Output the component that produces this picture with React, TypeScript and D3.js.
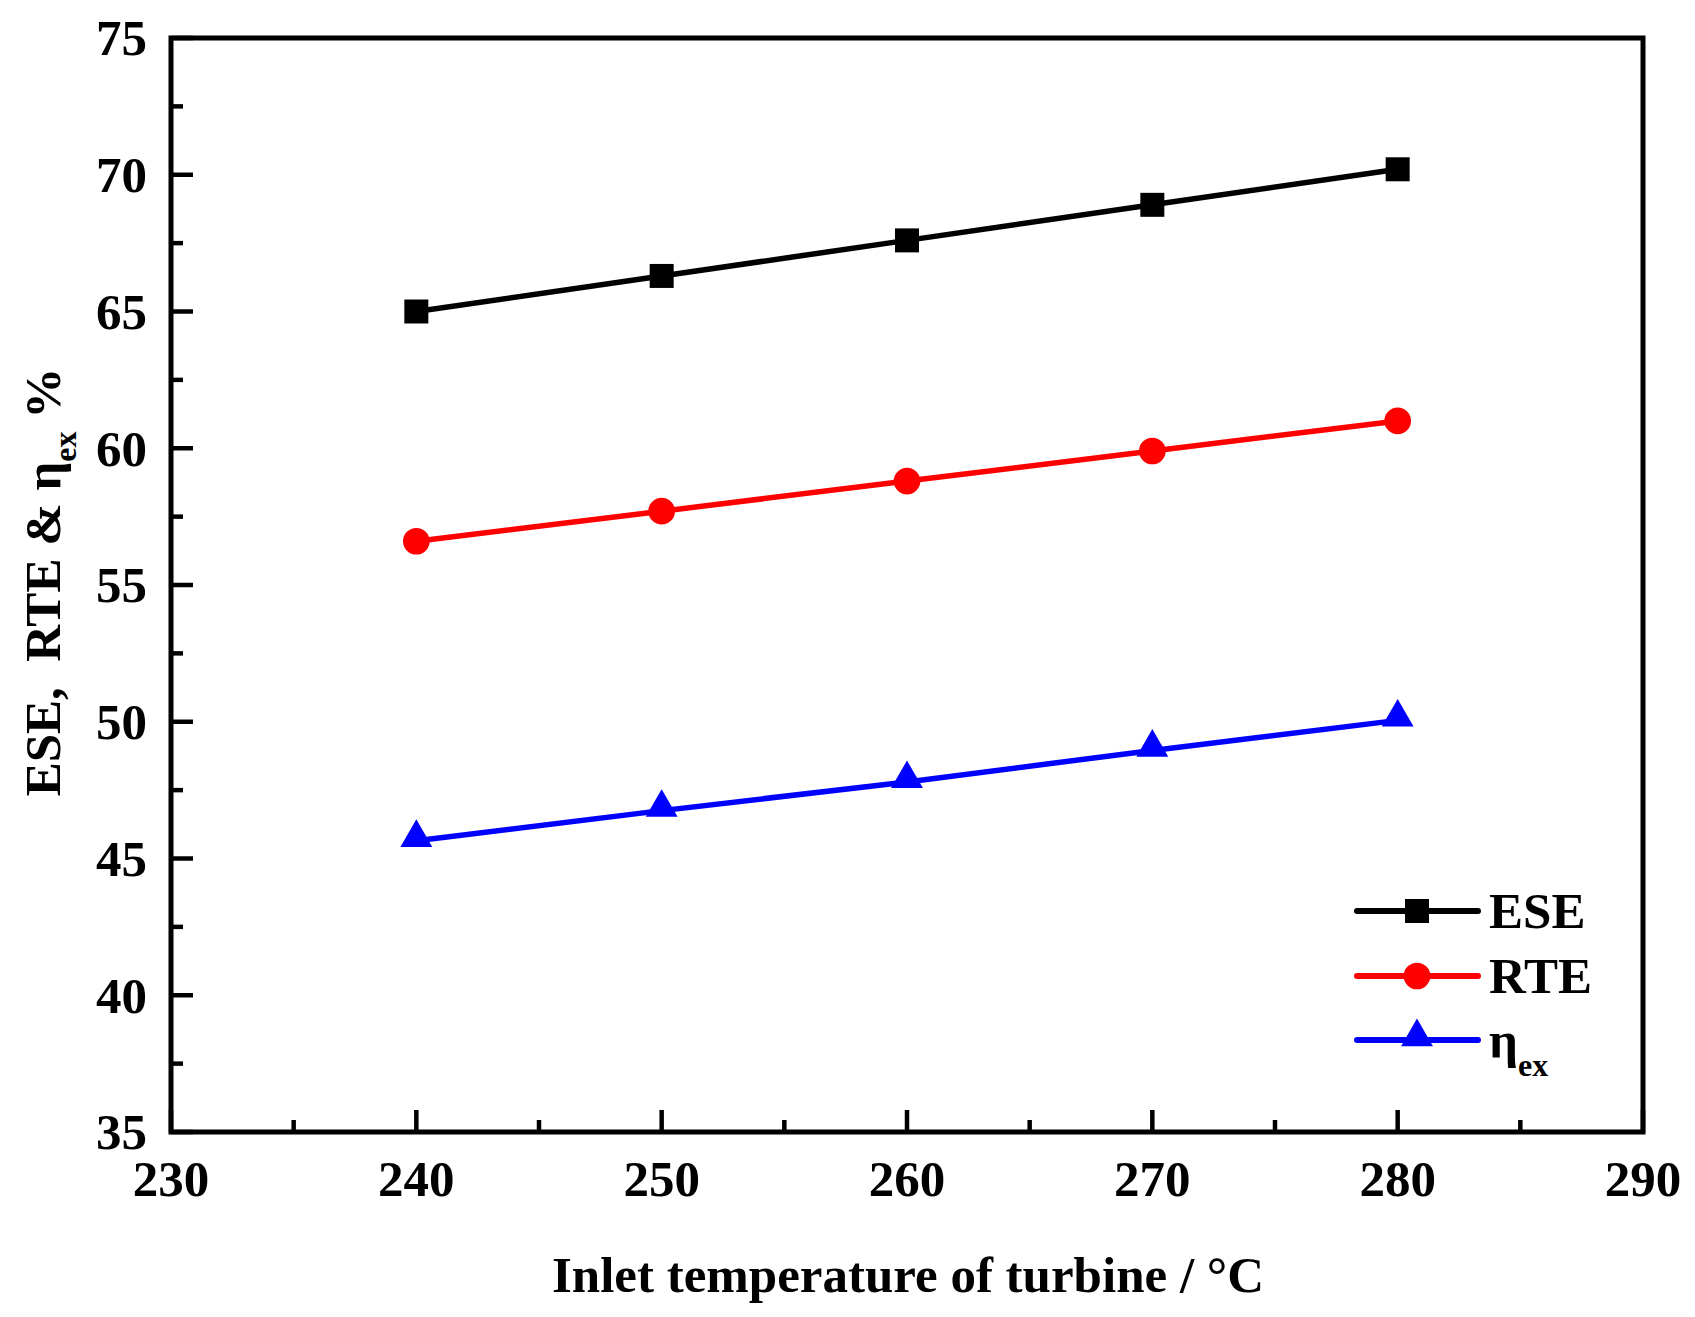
import * as d3 from "d3";
import { useEffect, useRef } from "react";

const temperatures = [240, 250, 260, 270, 280];
const eseValues = [65.0, 66.3, 67.6, 68.9, 70.2];
const rteValues = [56.6, 57.7, 58.8, 59.9, 61.0];
const etaValues = [45.65, 46.75, 47.8, 48.95, 50.05];
const xTicks = [230, 240, 250, 260, 270, 280, 290];
const yTicks = [35, 40, 45, 50, 55, 60, 65, 70, 75];

interface Series {
  name: string;
  values: number[];
  color: string;
  symbol: d3.SymbolType;
  size: number;
  shift: number;
}

const series: Series[] = [
  { name: "ESE", values: eseValues, color: "#000000", symbol: d3.symbolSquare, size: 576, shift: 0 },
  { name: "RTE", values: rteValues, color: "#ff0000", symbol: d3.symbolCircle, size: 560, shift: 0 },
  { name: "η", values: etaValues, color: "#0000ff", symbol: d3.symbolTriangle, size: 440, shift: -3 },
];

const FONT = "'Liberation Serif', 'Times New Roman', serif";

const App = () => {
  const ref = useRef<SVGSVGElement | null>(null);

  useEffect(() => {
    const width = 1695;
    const height = 1317;
    const left = 171;
    const right = 1643;
    const top = 38;
    const bottom = 1132;

    const x = d3.scaleLinear().domain([230, 290]).range([left, right]);
    const y = d3.scaleLinear().domain([35, 75]).range([bottom, top]);

    const svg = d3.select(ref.current);
    svg.selectAll("*").remove();
    svg.attr("width", width).attr("height", height);

    svg.append("rect").attr("width", width).attr("height", height).attr("fill", "#fff");

    // ticks (inward, left and bottom only)
    const minorX = d3.range(235, 290, 10);
    const minorY = d3.range(37.5, 75, 5);
    const tg = svg.append("g").attr("stroke", "#000").attr("stroke-width", 4.5);
    xTicks.forEach(t => {
      tg.append("line").attr("x1", x(t)).attr("x2", x(t)).attr("y1", bottom).attr("y2", bottom - 22);
    });
    minorX.forEach(t => {
      tg.append("line").attr("x1", x(t)).attr("x2", x(t)).attr("y1", bottom).attr("y2", bottom - 12);
    });
    yTicks.forEach(t => {
      tg.append("line").attr("x1", left).attr("x2", left + 22).attr("y1", y(t)).attr("y2", y(t));
    });
    minorY.forEach(t => {
      tg.append("line").attr("x1", left).attr("x2", left + 12).attr("y1", y(t)).attr("y2", y(t));
    });

    // frame
    svg.append("rect")
      .attr("x", left)
      .attr("y", top)
      .attr("width", right - left)
      .attr("height", bottom - top)
      .attr("fill", "none")
      .attr("stroke", "#000")
      .attr("stroke-width", 5);

    // tick labels
    xTicks.forEach(t => {
      svg.append("text")
        .attr("x", x(t))
        .attr("y", 1196)
        .attr("text-anchor", "middle")
        .attr("font-family", FONT)
        .attr("font-weight", "bold")
        .attr("font-size", 51)
        .text(t.toString());
    });
    yTicks.forEach(t => {
      svg.append("text")
        .attr("x", 147)
        .attr("y", y(t))
        .attr("dy", "0.34em")
        .attr("text-anchor", "end")
        .attr("font-family", FONT)
        .attr("font-weight", "bold")
        .attr("font-size", 51)
        .text(t.toString());
    });

    // axis titles
    svg.append("text")
      .attr("x", 908)
      .attr("y", 1292)
      .attr("text-anchor", "middle")
      .attr("font-family", FONT)
      .attr("font-weight", "bold")
      .attr("font-size", 51)
      .text("Inlet temperature of turbine / °C");

    const yt = svg.append("text")
      .attr("transform", "translate(60, 582) rotate(-90)")
      .attr("text-anchor", "middle")
      .attr("font-family", FONT)
      .attr("font-weight", "bold")
      .attr("font-size", 51)
      .style("white-space", "pre");
    yt.append("tspan").text("ESE,  RTE & η");
    yt.append("tspan").attr("font-size", 32).attr("dy", 16).text("ex");
    yt.append("tspan").attr("dy", -16).text(" %");

    // series
    const line = d3.line<number>()
      .x((_, i) => x(temperatures[i]))
      .y(d => y(d));

    series.forEach(s => {
      svg.append("path")
        .attr("d", line(s.values) as string)
        .attr("fill", "none")
        .attr("stroke", s.color)
        .attr("stroke-width", 5.5);
      const sym = d3.symbol().type(s.symbol).size(s.size);
      s.values.forEach((v, i) => {
        svg.append("path")
          .attr("d", sym() as string)
          .attr("transform", `translate(${x(temperatures[i])}, ${y(v) + s.shift})`)
          .attr("fill", s.color);
      });
    });

    // legend
    const legendY = [911, 976, 1040];
    series.forEach((s, i) => {
      const ly = legendY[i];
      svg.append("line")
        .attr("x1", 1357)
        .attr("x2", 1478)
        .attr("y1", ly)
        .attr("y2", ly)
        .attr("stroke", s.color)
        .attr("stroke-width", 6)
        .attr("stroke-linecap", "round");
      const sym = d3.symbol().type(s.symbol).size(s.size);
      svg.append("path")
        .attr("d", sym() as string)
        .attr("transform", `translate(1417, ${ly + s.shift})`)
        .attr("fill", s.color);
      const t = svg.append("text")
        .attr("x", 1489)
        .attr("y", ly + 17)
        .attr("font-family", FONT)
        .attr("font-weight", "bold")
        .attr("font-size", 51);
      t.append("tspan").text(s.name);
      if (s.name === "η") {
        t.append("tspan").attr("font-size", 32).attr("dy", 19).text("ex");
      }
    });
  }, []);

  return <svg ref={ref} style={{ position: "absolute", left: 0, top: 0, display: "block" }} />;
};

export default App;
